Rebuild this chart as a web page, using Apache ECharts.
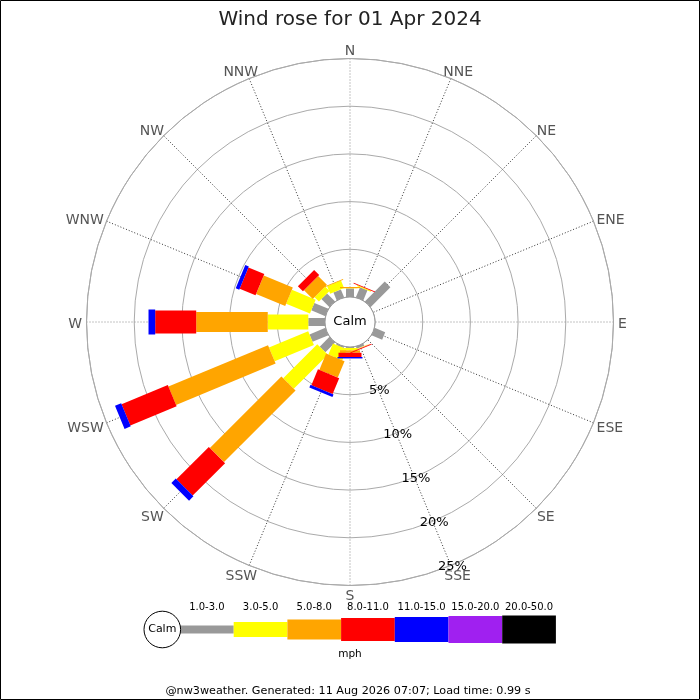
<!DOCTYPE html>
<html>
<head>
<meta charset="utf-8">
<script src="https://cdn.jsdelivr.net/npm/echarts@6/dist/echarts.min.js"></script>
<style>html,body{margin:0;padding:0;background:#fff}#c{width:700px;height:700px}</style>
</head>
<body>
<div id="c"></div>
<script>
// ---- data ----
const DIRS = ['N','NNE','NE','ENE','E','ESE','SE','SSE','S','SSW','SW','WSW','W','WNW','NW','NNW'];
const BINS = ['1.0-3.0','3.0-5.0','5.0-8.0','8.0-11.0','11.0-15.0','15.0-20.0','20.0-50.0'];
const UNIT = 'mph';
const RING_TICKS = [5, 10, 15, 20, 25];
// percentage of time per direction for each speed bin (N .. NNW)
const S_1_3   = [0.90, 1.15, 2.95, 0, 0, 1.20, 0, 0.25, 0.10, 0.15, 1.45, 1.80, 1.75, 1.60, 1.20, 0.90];
const S_3_5   = [0.03, 0.10, 0, 0, 0, 0, 0, 0.05, 0.25, 1.25, 5.05, 4.45, 4.25, 2.70, 0.65, 0.85];
const S_5_8   = [0.12, 0, 0, 0, 0, 0, 0, 0.05, 0.25, 1.85, 10.60, 11.30, 7.50, 3.30, 1.30, 0.08];
const S_8_11  = [0, 0.08, 0, 0, 0, 0, 0, 0.08, 0.45, 1.80, 4.80, 5.25, 4.30, 1.80, 0.75, 0];
const S_11_15 = [0, 0, 0, 0, 0, 0, 0, 0, 0.15, 0.30, 0.65, 0.70, 0.70, 0.40, 0, 0];
const S_15_20 = [0, 0, 0, 0, 0, 0, 0, 0, 0, 0, 0, 0, 0, 0, 0, 0];
const S_20_50 = [0, 0, 0, 0, 0, 0, 0, 0, 0, 0, 0, 0, 0, 0, 0, 0];
const SERIES = [S_1_3, S_3_5, S_5_8, S_8_11, S_11_15, S_15_20, S_20_50];

// ---- style ----
const COLORS = ['#999999', '#ffff00', '#ffa500', '#ff0000', '#0000ff', '#a020f0', '#000000'];
const BAR_W = [8, 15, 20, 23, 25, 27, 28];
const FONT = 'DejaVu Sans';
const CX = 350, CY = 322, R_IN = 25, R_OUT = 263.5;
const DIR_FONT = 14, DIR_GAP_X = 4.5, DIR_GAP_Y = 3, DIR_H = 12, DIR_DY = 2.2;

const measureCtx = document.createElement('canvas').getContext('2d');
function textWidth(t, size) {
  measureCtx.font = size + 'px "' + FONT + '"';
  return measureCtx.measureText(t).width;
}

const chart = echarts.init(document.getElementById('c'), null, {renderer: 'canvas'});

function makeRender(b) {
  return function (params, api) {
    const r0 = api.value(1), r1 = api.value(2), a = api.value(3);
    const c = api.coord([0, a]);
    const f = api.coord([25, a]);
    let ux = f[0] - c[0], uy = f[1] - c[1];
    const L = Math.hypot(ux, uy); ux /= L; uy /= L;
    const nx = -uy, ny = ux, h = BAR_W[b] / 2;
    const p0 = api.coord([r0, a]), p1 = api.coord([r1, a]);
    return {
      type: 'polygon',
      shape: {points: [
        [p0[0] + nx * h, p0[1] + ny * h],
        [p1[0] + nx * h, p1[1] + ny * h],
        [p1[0] - nx * h, p1[1] - ny * h],
        [p0[0] - nx * h, p0[1] - ny * h]
      ]},
      style: {fill: COLORS[b]}
    };
  };
}

const series = [];
const cum = new Array(DIRS.length).fill(0);
SERIES.forEach((vals, b) => {
  const data = [];
  vals.forEach((v, i) => {
    if (v > 0) data.push([b, cum[i], cum[i] + v, i * 22.5]);
    cum[i] += v;
  });
  series.push({
    type: 'custom', name: BINS[b], coordinateSystem: 'polar',
    encode: {radius: 2, angle: 3},
    renderItem: makeRender(b), data: data, z: 3, silent: true
  });
});

// ring labels along the SSE spoke
series.push({
  type: 'custom', coordinateSystem: 'polar', z: 5, silent: true,
  encode: {radius: 0, angle: 1},
  data: RING_TICKS.map(t => [t, 157.5]),
  renderItem: function (params, api) {
    const p = api.coord([api.value(0), api.value(1)]);
    return {
      type: 'text', x: p[0] + 1.5, y: p[1] + 1.5,
      style: {text: api.value(0) + '%', fill: '#000', font: '13px "' + FONT + '"',
              align: 'center', verticalAlign: 'middle'}
    };
  }
});

// compass direction labels just outside the outer ring
series.push({
  type: 'custom', coordinateSystem: 'polar', z: 5, silent: true,
  encode: {radius: 0, angle: 1},
  data: DIRS.map((d, i) => [25, i * 22.5]),
  renderItem: function (params, api) {
    const a = api.value(1);
    const name = DIRS[params.dataIndex];
    const c = api.coord([0, a]);
    const p = api.coord([api.value(0), a]);
    let ux = p[0] - c[0], uy = p[1] - c[1];
    const L = Math.hypot(ux, uy); ux /= L; uy /= L;
    const w = textWidth(name, DIR_FONT);
    const x = p[0] + ux * (DIR_GAP_X + w / 2);
    const y = p[1] + uy * (DIR_GAP_Y + DIR_H / 2) + DIR_DY;
    return {
      type: 'text', x: x, y: y,
      style: {text: name, fill: '#555', font: DIR_FONT + 'px "' + FONT + '"',
              align: 'center', verticalAlign: 'middle'}
    };
  }
});

// legend graphic built from the bins
const LX0 = 180, LSEG = 53.7, LCY = 629.5;
const graphic = [
  {type: 'rect', shape: {x: 0.5, y: 0.5, width: 699, height: 699}, style: {fill: 'none', stroke: '#000', lineWidth: 1}, z: 100},
  {type: 'circle', shape: {cx: CX, cy: CY, r: R_IN}, style: {fill: '#fff', stroke: '#999', lineWidth: 1}, z: 50},
  {type: 'text', x: CX, y: CY, style: {text: 'Calm', fill: '#000', font: '13px "' + FONT + '"', align: 'center', verticalAlign: 'middle'}, z: 51},
  {type: 'circle', shape: {cx: 162.3, cy: LCY, r: 18.3}, style: {fill: '#fff', stroke: '#000', lineWidth: 1}, z: 50},
  {type: 'text', x: 162.3, y: LCY, style: {text: 'Calm', fill: '#000', font: '11px "' + FONT + '"', align: 'center', verticalAlign: 'middle'}, z: 51},
  {type: 'text', x: 350, y: 654, style: {text: UNIT, fill: '#000', font: '10.5px "' + FONT + '"', align: 'center', verticalAlign: 'middle'}, z: 51},
  {type: 'text', x: 348, y: 691, style: {text: '@nw3weather. Generated: 11 Aug 2026 07:07; Load time: 0.99 s', fill: '#000', font: '11.2px "' + FONT + '"', align: 'center', verticalAlign: 'middle'}, z: 51}
];
BINS.forEach((lab, b) => {
  const x = LX0 + b * LSEG;
  graphic.push({type: 'rect', shape: {x: x, y: LCY - BAR_W[b] / 2, width: LSEG, height: BAR_W[b]}, style: {fill: COLORS[b]}, z: 40});
  graphic.push({type: 'text', x: x + LSEG / 2, y: 607, style: {text: lab, fill: '#000', font: '10px "' + FONT + '"', align: 'center', verticalAlign: 'middle'}, z: 41});
});

chart.setOption({
  animation: false,
  backgroundColor: '#fff',
  title: {text: 'Wind rose for 01 Apr 2024', left: 'center', top: 5,
          textStyle: {fontFamily: FONT, fontSize: 20, fontWeight: 'normal', color: '#222'}},
  polar: {center: [CX, CY], radius: [R_IN, R_OUT]},
  angleAxis: {
    type: 'value', min: 0, max: 360, interval: 22.5, startAngle: 90, clockwise: true,
    axisLine: {show: true, lineStyle: {color: '#aaa', width: 1}},
    axisTick: {show: false},
    axisLabel: {show: false},
    splitLine: {show: true, lineStyle: {color: ['#888', '#333', '#333', '#333'], width: 1, type: [1, 2]}}
  },
  radiusAxis: {
    type: 'value', min: 0, max: 25, interval: 5,
    axisLine: {show: false}, axisTick: {show: false}, axisLabel: {show: false},
    splitLine: {show: true, lineStyle: {color: '#aaa', width: 1}}
  },
  graphic: graphic,
  series: series
});
</script>
</body>
</html>
